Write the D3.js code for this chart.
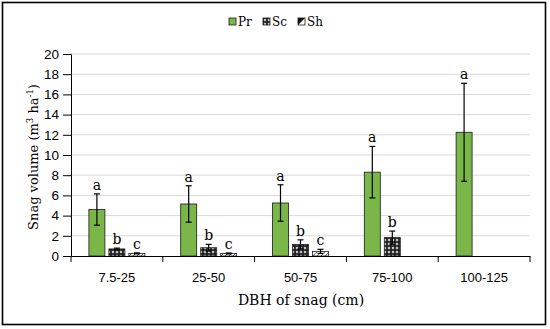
<!DOCTYPE html>
<html>
<head>
<meta charset="utf-8">
<script src="https://cdn.jsdelivr.net/npm/d3@7"></script>
<style>
  body { margin: 0; background: #fff; }
</style>
</head>
<body>
<div id="chart"></div>
<script>
// data
var categories = ["7.5-25", "25-50", "50-75", "75-100", "100-125"];
var seriesNames = ["Pr", "Sc", "Sh"];
var prValues = [4.6, 5.15, 5.25, 8.3, 12.25];
var prErrors = [1.55, 1.8, 1.8, 2.55, 4.85];
var scValues = [0.7, 0.82, 1.15, 1.82, null];
var scErrors = [0.08, 0.33, 0.45, 0.65, null];
var shValues = [0.26, 0.25, 0.46, null, null];
var shErrors = [0.05, 0.05, 0.2, null, null];
var prLetters = ["a", "a", "a", "a", "a"];
var scLetters = ["b", "b", "b", "b", null];
var shLetters = ["c", "c", "c", null, null];
var yTicks = [0, 2, 4, 6, 8, 10, 12, 14, 16, 18, 20];

var serif = "'DejaVu Serif', serif";
var sans = "'Liberation Sans', Arial, sans-serif";

var W = 550, H = 329;
var margin = {top: 54, right: 20, bottom: 73, left: 71},
    width = 530 - margin.left,
    height = 256 - margin.top;

var svg = d3.select("#chart").append("svg")
    .attr("width", W).attr("height", H);

// patterns
var defs = svg.append("defs");
var pSc = defs.append("pattern").attr("id", "pSc")
    .attr("patternUnits", "userSpaceOnUse").attr("width", 4).attr("height", 4);
pSc.append("rect").attr("width", 4).attr("height", 4).attr("fill", "#222");
pSc.append("rect").attr("x", 1).attr("y", 1).attr("width", 2).attr("height", 2).attr("fill", "#ddd")
    .attr("transform", "rotate(45,2,2)");
var pSh = defs.append("pattern").attr("id", "pSh")
    .attr("patternUnits", "userSpaceOnUse").attr("width", 4).attr("height", 4);
pSh.append("rect").attr("width", 4).attr("height", 4).attr("fill", "#fff");
pSh.append("path").attr("d", "M-1,1 l2,-2 M0,4 l4,-4 M3,5 l2,-2")
    .attr("stroke", "#333").attr("stroke-width", 0.8);

// outer frame
svg.append("rect").attr("x", 2.5).attr("y", 2.5)
    .attr("width", 543).attr("height", 322)
    .attr("fill", "none").attr("stroke", "#000").attr("stroke-width", 1.6);

var g = svg.append("g")
    .attr("transform", "translate(" + margin.left + "," + margin.top + ")");

var x = d3.scaleBand().domain(categories).range([0, width]);
var y = d3.scaleLinear().domain([0, 20]).range([height, 0]);

var fills = {Pr: "#7ab648", Sc: "url(#pSc)", Sh: "url(#pSh)"};
var barW = 16, gapW = 4;
var xs = d3.scaleBand().domain(seriesNames)
    .range([x.bandwidth() / 2 - (3 * barW + 2 * gapW) / 2, x.bandwidth() / 2 + (3 * barW + 2 * gapW) / 2])
    .paddingInner(gapW / (barW + gapW));

// gridlines
g.selectAll(".grid").data(yTicks.slice(1)).enter().append("line")
    .attr("x1", 0).attr("x2", width)
    .attr("y1", function(d){ return y(d); }).attr("y2", function(d){ return y(d); })
    .attr("stroke", "#d9d9d9").attr("stroke-width", 1);

// y axis
var yAxis = g.append("g")
    .call(d3.axisLeft(y).tickValues(yTicks).tickSize(8).tickPadding(4));
yAxis.select(".domain").attr("stroke", "#000");
yAxis.selectAll(".tick line").attr("stroke", "#000");
yAxis.selectAll("text").style("font-family", sans).style("font-size", "13.5px").attr("fill", "#000");

// build table
var rows = [];
categories.forEach(function(c, i){
    rows.push({cat: c, s: "Pr", v: prValues[i], e: prErrors[i], l: prLetters[i]});
    rows.push({cat: c, s: "Sc", v: scValues[i], e: scErrors[i], l: scLetters[i]});
    rows.push({cat: c, s: "Sh", v: shValues[i], e: shErrors[i], l: shLetters[i]});
});
rows = rows.filter(function(d){ return d.v != null; });

var bx = function(d){ return x(d.cat) + xs(d.s); };

g.selectAll(".bar").data(rows).enter().append("rect")
    .attr("x", bx)
    .attr("y", function(d){ return y(d.v); })
    .attr("width", xs.bandwidth())
    .attr("height", function(d){ return y(0) - y(d.v); })
    .attr("fill", function(d){ return fills[d.s]; })
    .attr("stroke", "#1a1a1a").attr("stroke-width", 0.8);

// error bars
var eb = g.selectAll(".err").data(rows).enter().append("g")
    .attr("stroke", "#000").attr("stroke-width", 1.2);
eb.append("line")
    .attr("x1", function(d){ return bx(d) + xs.bandwidth() / 2; })
    .attr("x2", function(d){ return bx(d) + xs.bandwidth() / 2; })
    .attr("y1", function(d){ return y(Math.max(0, d.v - d.e)); })
    .attr("y2", function(d){ return y(d.v + d.e); });
[1, -1].forEach(function(sgn){
    eb.append("line")
        .attr("x1", function(d){ return bx(d) + xs.bandwidth() / 2 - 3; })
        .attr("x2", function(d){ return bx(d) + xs.bandwidth() / 2 + 3; })
        .attr("y1", function(d){ return y(Math.max(0, d.v + sgn * d.e)); })
        .attr("y2", function(d){ return y(Math.max(0, d.v + sgn * d.e)); });
});

// letters
g.selectAll(".lett").data(rows).enter().append("text")
    .attr("x", function(d){ return bx(d) + xs.bandwidth() / 2; })
    .attr("y", function(d){ return y(d.v + d.e) - 4; })
    .attr("text-anchor", "middle")
    .style("font-family", serif).style("font-size", "14px")
    .text(function(d){ return d.l; });

// x axis
var xAxis = g.append("g")
    .attr("transform", "translate(0," + height + ")")
    .call(d3.axisBottom(x).tickSize(0).tickPadding(17));
xAxis.select(".domain").attr("stroke", "#000").attr("stroke-width", 1.2);
xAxis.selectAll("text").style("font-family", sans).style("font-size", "13px").attr("fill", "#000");
g.selectAll(".xtick").data(d3.range(categories.length + 1)).enter().append("line")
    .attr("x1", function(i){ return i * x.step(); })
    .attr("x2", function(i){ return i * x.step(); })
    .attr("y1", height).attr("y2", height + 6)
    .attr("stroke", "#000");

// axis titles
svg.append("text")
    .attr("x", 301).attr("y", 305)
    .attr("text-anchor", "middle")
    .style("font-family", serif).style("font-size", "14px")
    .text("DBH of snag (cm)");

var yt = svg.append("text")
    .attr("transform", "translate(38,157) rotate(-90)")
    .attr("text-anchor", "middle")
    .style("font-family", serif).style("font-size", "13px");
yt.append("tspan").text("Snag volume (m");
yt.append("tspan").attr("dy", -5).style("font-size", "8.5px").text("3");
yt.append("tspan").attr("dy", 5).text(" ha");
yt.append("tspan").attr("dy", -5).style("font-size", "8.5px").text("-1");
yt.append("tspan").attr("dy", 5).text(")");

// legend
var legX = [229, 263, 298];
var leg = svg.selectAll(".leg").data(seriesNames).enter().append("g")
    .attr("transform", function(d, i){ return "translate(" + legX[i] + ",18)"; });
leg.append("rect").attr("width", 7).attr("height", 7)
    .attr("fill", function(d){ return d === "Sh" ? "#fff" : fills[d]; })
    .attr("stroke", "#1a1a1a").attr("stroke-width", 0.8);
leg.filter(function(d){ return d === "Sh"; }).append("path")
    .attr("d", "M0,7 L0,0 L7,0 Z").attr("fill", "#111");
leg.append("text").attr("x", 9).attr("y", 8)
    .style("font-family", serif).style("font-size", "12px")
    .text(function(d){ return d; });
</script>
</body>
</html>
